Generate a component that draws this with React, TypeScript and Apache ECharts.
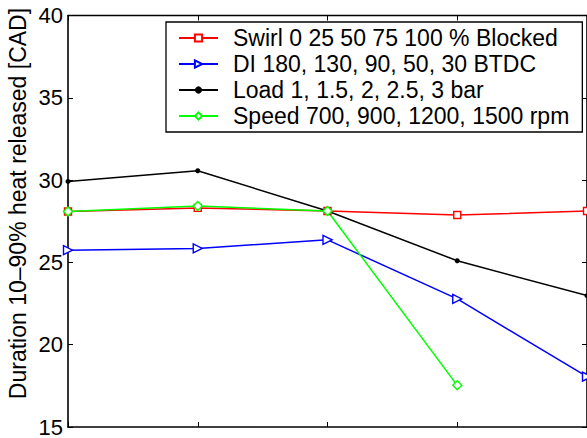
import React, { useEffect, useRef } from "react";
import * as echarts from "echarts";

const xPositions = [1, 2, 3, 4, 5];
const seriesNames = [
  "Swirl 0 25 50 75 100 % Blocked",
  "DI 180, 130, 90, 50, 30 BTDC",
  "Load 1, 1.5, 2, 2.5, 3 bar",
  "Speed 700, 900, 1200, 1500 rpm",
];
const swirl = [28.09, 28.31, 28.12, 27.88, 28.12];
const di = [25.74, 25.85, 26.37, 22.78, 18.06];
const load = [29.92, 30.57, 28.12, 25.1, 22.98];
const speed = [28.09, 28.43, 28.12, 17.53];
const yTicks = { min: 15, max: 40, interval: 5 };
const yLabel = "Duration 10\u201390% heat released [CAD]";

const FONT = "'Liberation Sans', Arial, Helvetica, sans-serif";

function pairs(vals: number[]) {
  return vals.map((v, i) => [xPositions[i], v]);
}

export default function App() {
  const ref = useRef<HTMLDivElement>(null);
  useEffect(() => {
    if (!ref.current) return;
    const chart = echarts.init(ref.current, undefined, { renderer: "svg" });
    const axisLine = { show: true, lineStyle: { color: "#000", width: 1.6 } };
    const tick = { show: true, inside: true, length: 5, lineStyle: { color: "#000", width: 1 } };
    const mk = (name: string, vals: number[], color: string, symbol: string, size: number, filled: boolean, rotate = 0) => ({
      name,
      type: "line",
      data: pairs(vals),
      symbol,
      symbolSize: size,
      symbolRotate: rotate,
      showAllSymbol: true,
      lineStyle: { color, width: 1.5 },
      itemStyle: filled
        ? { color, borderColor: color, borderWidth: 0 }
        : { color: "#fff", borderColor: color, borderWidth: 1.4 },
      emphasis: { disabled: true },
      clip: true,
      z: 3,
    });
    chart.setOption({
      animation: false,
      backgroundColor: "#fff",
      grid: { left: 68, right: 0, top: 15.5, bottom: 9.5, containLabel: false },
      xAxis: [
        {
          type: "value",
          min: 1,
          max: 5,
          interval: 1,
          axisLine,
          axisTick: tick,
          axisLabel: { show: false },
          splitLine: { show: false },
        },
        {
          type: "value",
          position: "top",
          min: 1,
          max: 5,
          interval: 1,
          axisLine: { show: true, lineStyle: { color: "#000", width: 1.3 } },
          axisTick: tick,
          axisLabel: { show: false },
          splitLine: { show: false },
        },
      ],
      yAxis: [
        {
          type: "value",
          min: yTicks.min,
          max: yTicks.max,
          interval: yTicks.interval,
          axisLine,
          axisTick: tick,
          axisLabel: { color: "#000", fontSize: 22, fontFamily: FONT, margin: 5 },
          splitLine: { show: false },
        },
        {
          type: "value",
          position: "right",
          min: yTicks.min,
          max: yTicks.max,
          interval: yTicks.interval,
          axisLine,
          axisTick: tick,
          axisLabel: { show: false },
          splitLine: { show: false },
        },
      ],
      legend: {
        orient: "vertical",
        left: 166,
        top: 22,
        padding: [4.5, 13, 4.5, 12],
        itemGap: 3,
        itemWidth: 39,
        itemHeight: 9,
        backgroundColor: "#fff",
        borderColor: "#000",
        borderWidth: 1.3,
        borderRadius: 0,
        selectedMode: false,
        textStyle: {
          color: "#000",
          fontSize: 23,
          lineHeight: 23,
          fontFamily: FONT,
          padding: [0, 0, 0, 10],
        },
        data: seriesNames,
      },
      graphic: [
        {
          type: "text",
          x: 18,
          y: 203.5,
          rotation: Math.PI / 2,
          style: {
            text: yLabel,
            fill: "#000",
            font: `23px ${FONT}`,
            align: "center",
            verticalAlign: "middle",
          },
        },
      ],
      series: [
        mk(seriesNames[0], swirl, "#ff0000", "rect", 7, false),
        mk(seriesNames[1], di, "#0000ff", "triangle", 9, false, -90),
        mk(seriesNames[2], load, "#000000", "circle", 5, true),
        mk(seriesNames[3], speed, "#00ff00", "diamond", 9, false),
      ],
    });
    return () => chart.dispose();
  }, []);
  return (
    <div
      ref={ref}
      style={{ position: "fixed", left: 0, top: 0, width: 587, height: 438, background: "#fff" }}
    />
  );
}
